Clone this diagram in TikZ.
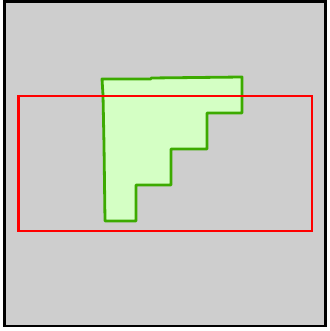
\documentclass[tikz,border=0pt]{standalone}
\definecolor{bg}{RGB}{206,206,206}
\definecolor{gfill}{RGB}{212,255,196}
\definecolor{gline}{RGB}{60,170,0}
\tikzset{frame/.style={draw=black,line width=2.6pt,fill=bg},
  region/.style={draw=gline,fill=gfill,line width=2.8pt,line join=round},
  box/.style={draw=red,line width=2.6pt}}
\begin{document}
\begin{tikzpicture}[x=1pt,y=-1pt]
\useasboundingbox (0,0) rectangle (329,331);
\draw[frame] (4.5,1.3) rectangle (325.5,326);
\draw[region] (102,79) -- (151,79) -- (151,78) -- (242,77) -- (242,113) -- (207,113) -- (207,149) -- (171,149) -- (171,185) -- (136,185) -- (136,221) -- (105,221) -- (104,145) -- (103,95) -- cycle;
\draw[box] (18.5,96) rectangle (312,231);
\end{tikzpicture}
\end{document}
